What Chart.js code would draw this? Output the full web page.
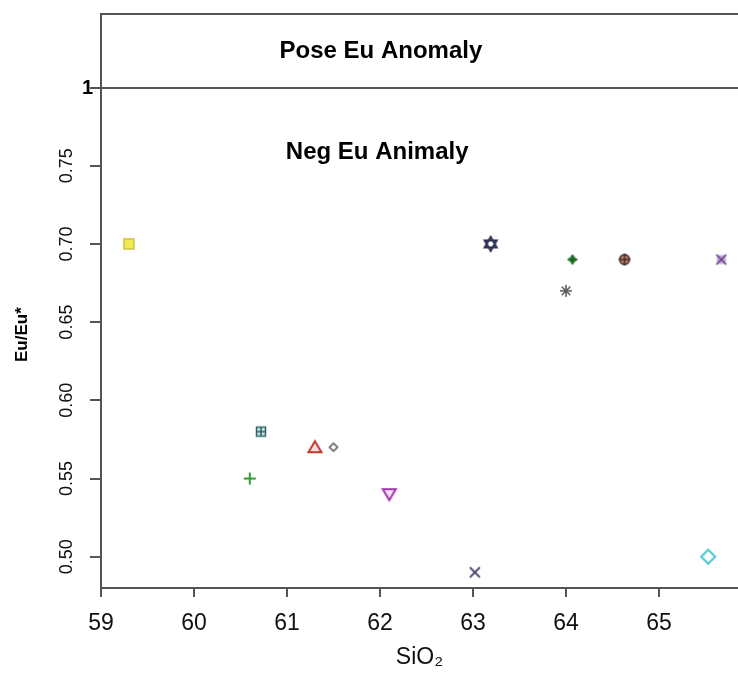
<!DOCTYPE html>
<html>
<head>
<meta charset="utf-8">
<script src="https://cdn.jsdelivr.net/npm/chart.js@4/dist/chart.umd.min.js"></script>
<style>
  html, body { margin: 0; padding: 0; background: #fff; }
  #wrap { width: 738px; height: 674px; }
</style>
</head>
<body>
<div id="wrap"><canvas id="c" width="738" height="674"></canvas></div>
<script>
// ---- data ----
const sio2     = [59.3, 60.6, 60.72, 61.3, 61.5, 62.1, 63.02, 63.19, 64.0, 64.07, 64.63, 65.67, 65.53];
const euRatio  = [0.70, 0.55, 0.58, 0.57, 0.57, 0.54, 0.49, 0.70, 0.67, 0.69, 0.69, 0.69, 0.50];
const xTicks   = [59, 60, 61, 62, 63, 64, 65];
const yTicks   = [0.50, 0.55, 0.60, 0.65, 0.70, 0.75, 0.80];
const yTickLabels = ['0.50', '0.55', '0.60', '0.65', '0.70', '0.75', '1'];
const xTitle = 'SiO\u2082';
const yTitle = 'Eu/Eu*';
const posLabel = 'Pose Eu Anomaly';
const negLabel = 'Neg Eu Animaly';

const FONT = '"Liberation Sans", Arial, Helvetica, sans-serif';

// ---- marker glyphs ----
function mk(size, draw) {
  const c = document.createElement('canvas');
  c.width = size; c.height = size;
  const g = c.getContext('2d');
  g.translate(size / 2, size / 2);
  g.lineJoin = 'miter';
  draw(g);
  return c;
}
function poly(g, pts) { g.beginPath(); g.moveTo(pts[0][0], pts[0][1]); for (let i = 1; i < pts.length; i++) g.lineTo(pts[i][0], pts[i][1]); g.closePath(); }
function line(g, x1, y1, x2, y2) { g.beginPath(); g.moveTo(x1, y1); g.lineTo(x2, y2); g.stroke(); }

const markers = [
  mk(16, g => { g.fillStyle = '#f2ea55'; g.fillRect(-5, -5, 10, 10); g.strokeStyle = '#c9c23c'; g.lineWidth = 1.5; g.strokeRect(-5, -5, 10, 10); }),
  mk(16, g => { g.strokeStyle = '#2e9e35'; g.lineWidth = 2; line(g, -6, 0, 6, 0); line(g, 0, -6, 0, 6); }),
  mk(16, g => { g.fillStyle = '#cfe3e3'; g.fillRect(-4.5, -4.5, 9, 9); g.strokeStyle = '#2c6567'; g.lineWidth = 1.5; g.strokeRect(-4.5, -4.5, 9, 9); line(g, -4.5, 0, 4.5, 0); line(g, 0, -4.5, 0, 4.5); }),
  mk(18, g => { g.fillStyle = '#f6dede'; g.strokeStyle = '#c0392b'; g.lineWidth = 2; poly(g, [[0, -6], [6.5, 5], [-6.5, 5]]); g.fill(); g.stroke(); }),
  mk(14, g => { g.strokeStyle = '#555'; g.lineWidth = 1.5; poly(g, [[0, -4], [4, 0], [0, 4], [-4, 0]]); g.stroke(); }),
  mk(18, g => { g.fillStyle = '#f3e0f5'; g.strokeStyle = '#a436b2'; g.lineWidth = 2; poly(g, [[-6.5, -5], [6.5, -5], [0, 6]]); g.fill(); g.stroke(); }),
  mk(16, g => { g.strokeStyle = '#4b4b6e'; g.lineWidth = 1.8; line(g, -5, -5, 5, 5); line(g, -5, 5, 5, -5); }),
  mk(18, g => { g.strokeStyle = '#2b2f4f'; g.lineWidth = 2; poly(g, [[0, -7], [6, 3.5], [-6, 3.5]]); g.stroke(); poly(g, [[0, 7], [6, -3.5], [-6, -3.5]]); g.stroke(); }),
  mk(16, g => { g.strokeStyle = '#555'; g.lineWidth = 1.5; line(g, 0, -6, 0, 6); line(g, -6, 0, 6, 0); line(g, -4.3, -4.3, 4.3, 4.3); line(g, -4.3, 4.3, 4.3, -4.3); }),
  mk(14, g => { g.fillStyle = '#2f8a35'; poly(g, [[0, -5], [5, 0], [0, 5], [-5, 0]]); g.fill(); g.strokeStyle = '#1d4d22'; g.lineWidth = 1.2; line(g, -5, 0, 5, 0); line(g, 0, -5, 0, 5); }),
  mk(16, g => { g.fillStyle = '#b9806e'; g.beginPath(); g.arc(0, 0, 5, 0, Math.PI * 2); g.fill(); g.strokeStyle = '#3a201a'; g.lineWidth = 1.3; g.stroke(); line(g, -6, 0, 6, 0); line(g, 0, -6, 0, 6); }),
  mk(14, g => { g.fillStyle = '#c3a8da'; g.fillRect(-4.5, -4.5, 9, 9); g.strokeStyle = '#5c3d7d'; g.lineWidth = 1.4; line(g, -5, -5, 5, 5); line(g, -5, 5, 5, -5); }),
  mk(20, g => { g.fillStyle = '#fff'; g.strokeStyle = '#49c6d2'; g.lineWidth = 2; poly(g, [[0, -7], [7, 0], [0, 7], [-7, 0]]); g.fill(); g.stroke(); })
];

// ---- plugin: frame, annotations, custom tick "1", y title ----
const extras = {
  id: 'extras',
  afterDraw(chart) {
    const { ctx, chartArea: a, scales: { x, y } } = chart;
    ctx.save();
    // top frame line
    ctx.strokeStyle = '#555';
    ctx.lineWidth = 2;
    ctx.beginPath(); ctx.moveTo(a.left, a.top); ctx.lineTo(a.right, a.top); ctx.stroke();
    // text labels
    ctx.fillStyle = '#000';
    ctx.textAlign = 'center';
    ctx.textBaseline = 'middle';
    ctx.font = 'bold 24px ' + FONT;
    ctx.fillText(posLabel, x.getPixelForValue(62.01), y.getPixelForValue(0.823));
    ctx.fillText(negLabel, x.getPixelForValue(61.97), y.getPixelForValue(0.7585));
    // "1" tick label (bold, unrotated)
    ctx.font = 'bold 20px ' + FONT;
    ctx.textAlign = 'right';
    ctx.fillText(yTickLabels[yTickLabels.length - 1], a.left - 8, y.getPixelForValue(yTicks[yTicks.length - 1]) + 1);
    // y axis title
    ctx.font = 'bold 17px ' + FONT;
    ctx.translate(22, y.getPixelForValue(0.642));
    ctx.rotate(-Math.PI / 2);
    ctx.textAlign = 'center';
    ctx.fillText(yTitle, 0, 0);
    ctx.restore();
  }
};

new Chart(document.getElementById('c'), {
  type: 'scatter',
  data: {
    datasets: [{
      data: sio2.map((v, i) => ({ x: v, y: euRatio[i] })),
      pointStyle: markers,
      pointRadius: 6,
      pointHoverRadius: 6,
      showLine: false
    }]
  },
  options: {
    responsive: false,
    animation: false,
    devicePixelRatio: 1,
    layout: { autoPadding: false, padding: { top: 14, left: 0, right: 0, bottom: 0 } },
    plugins: { legend: { display: false }, tooltip: { enabled: false } },
    scales: {
      x: {
        type: 'linear',
        min: 59,
        max: 65.85,
        afterBuildTicks: s => { s.ticks = xTicks.map(v => ({ value: v })); },
        afterFit: s => { s.height = 86; s.paddingLeft = 0; s.paddingRight = 0; },
        ticks: { color: '#111', font: { family: FONT, size: 23 }, padding: 13, maxRotation: 0, minRotation: 0 },
        grid: { drawOnChartArea: false, tickColor: '#555', tickLength: 9, lineWidth: 2 },
        border: { color: '#555', width: 2 },
        title: { display: true, text: xTitle, color: '#111', font: { family: FONT, size: 23 }, padding: { top: 0, bottom: 3 } }
      },
      y: {
        type: 'linear',
        min: 0.48,
        max: 0.847,
        afterBuildTicks: s => { s.ticks = yTicks.map(v => ({ value: v })); },
        afterFit: s => { s.width = 101; s.paddingTop = 0; s.paddingBottom = 0; },
        ticks: {
          color: '#111',
          font: { family: FONT, size: 18 },
          minRotation: 90, maxRotation: 90,
          crossAlign: 'center',
          padding: 5,
          callback: (v, i) => (i === yTickLabels.length - 1 ? '' : yTickLabels[i])
        },
        grid: {
          color: c => (c.tick && Math.abs(c.tick.value - 0.8) < 1e-9 ? '#555' : 'rgba(0,0,0,0)'),
          tickColor: '#555', tickLength: 11, lineWidth: 2
        },
        border: { color: '#555', width: 2 },
        title: { display: false }
      }
    }
  },
  plugins: [extras]
});
</script>
</body>
</html>
